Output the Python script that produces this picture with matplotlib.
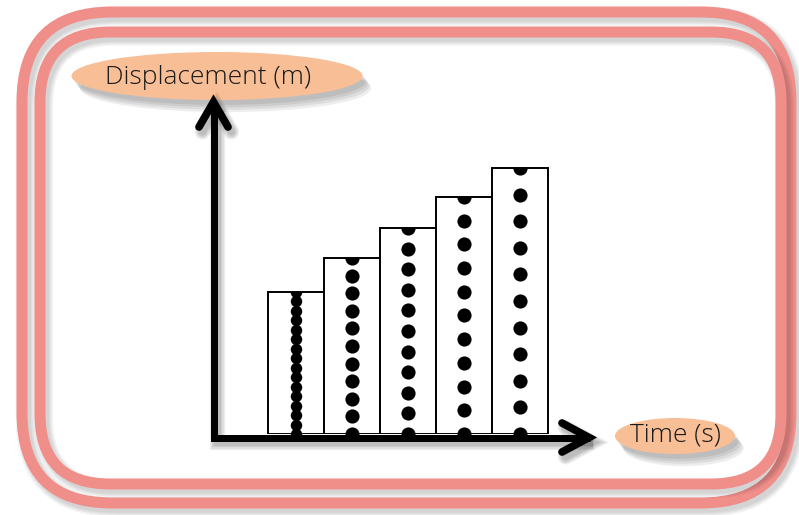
import numpy as np
import matplotlib
matplotlib.use("Agg")
import matplotlib.pyplot as plt
from matplotlib.patches import FancyBboxPatch, Ellipse
import matplotlib.patheffects as pe

# ---- data ----
times = [1, 2, 3, 4, 5]
displacement = [5.35, 6.62, 7.74, 8.91, 10.0]
dot_counts = [16, 11, 11, 11, 11]
x_label = "Time (s)"
y_label = "Displacement (m)"

W, H = 799, 515
fig = plt.figure(figsize=(W / 100, H / 100), dpi=100)

RING = '#F08E8A'
PEACH = '#F8BE96'


def patch_shadows(n=4, alpha=0.07, dx=2.5, dy=-3.5):
    effs = []
    for k in range(n):
        s = 1 + 0.5 * k
        effs.append(pe.SimplePatchShadow(offset=(dx * s, dy * s), shadow_rgbFace='black',
                                         alpha=alpha))
    return effs


# ---- background: double rounded frame ----
bg = fig.add_axes([0, 0, 1, 1], zorder=0)
bg.set_xlim(0, W)
bg.set_ylim(H, 0)
bg.axis('off')

ring_lw = 11 * 0.72
for (x0, y0, x1, y1, r) in [(22, 12, 791, 503, 90), (40, 32, 781, 484, 70)]:
    p = FancyBboxPatch((x0, y0), x1 - x0, y1 - y0,
                       boxstyle=f"round,pad=0,rounding_size={r}",
                       fc='none', ec=RING, lw=ring_lw)
    effs = []
    for k in range(4):
        effs.append(pe.SimpleLineShadow(offset=(2.5, -3), shadow_color='black',
                                        alpha=0.045, linewidth=ring_lw + k * 2.0))
    p.set_path_effects(effs + [pe.Normal()])
    bg.add_patch(p)

# ---- data axes: ticker-tape bars ----
x_left_px, x_right_px = 212, 592
y_base_px, y_top_px = 434, 100
bar_center0, bar_step = 296, 56
ax = fig.add_axes([x_left_px / W, (H - y_base_px) / H,
                   (x_right_px - x_left_px) / W, (y_base_px - y_top_px) / H], zorder=1)
ax.patch.set_alpha(0)
ax.set_xlim(times[0] - (bar_center0 - x_left_px) / bar_step,
            times[0] + (x_right_px - bar_center0) / bar_step)
ax.set_ylim(0, (y_base_px - y_top_px) / 26.6)
ax.axis('off')

bars = ax.bar(times, displacement, width=1.0, color='white', edgecolor='black',
              linewidth=1.4, zorder=2)
for t, h, n, b in zip(times, displacement, dot_counts, bars):
    ys = np.linspace(0, h, n)
    size = 68 if n > 12 else 104
    sc = ax.scatter([t] * n, ys, s=size, color='black', zorder=3, linewidths=0)
    sc.set_clip_path(b)

# ---- foreground: axes arrows and labels ----
fg = fig.add_axes([0, 0, 1, 1], zorder=2)
fg.set_xlim(0, W)
fg.set_ylim(H, 0)
fg.axis('off')
fg.patch.set_alpha(0)

axis_lw = 7 * 0.72
shad = [pe.SimpleLineShadow(offset=(2.5, -3.5), shadow_color='black', alpha=0.07,
                            linewidth=axis_lw + k * 2.0) for k in range(4)]
fg.plot([213.5, 213.5, 590], [104, 437.5, 437.5], color='black', lw=axis_lw,
        solid_joinstyle='miter', solid_capstyle='butt',
        path_effects=shad + [pe.Normal()])
fg.plot([199, 213.5, 228], [127, 102, 127], color='black', lw=axis_lw * 1.1,
        solid_joinstyle='miter', solid_capstyle='round',
        path_effects=shad + [pe.Normal()])
fg.plot([562, 589, 562], [423, 437.5, 452], color='black', lw=axis_lw * 1.1,
        solid_joinstyle='miter', solid_capstyle='round',
        path_effects=shad + [pe.Normal()])

for (cx, cy, w, h) in [(217, 76, 291, 48), (675, 436, 120, 36)]:
    e = Ellipse((cx, cy), w, h, fc=PEACH, ec='none', zorder=1)
    e.set_path_effects(patch_shadows() + [pe.Normal()])
    fg.add_patch(e)

fg.text(208, 77, y_label, ha='center', va='center', fontsize=19, zorder=5,
        family=['Open Sans', 'DejaVu Sans'], weight='light', color='#1a1a1a')
fg.text(675, 435, x_label, ha='center', va='center', fontsize=19, zorder=5,
        family=['Open Sans', 'DejaVu Sans'], weight='light', color='#1a1a1a')

fig.savefig('out.png', dpi=100, facecolor='white')
